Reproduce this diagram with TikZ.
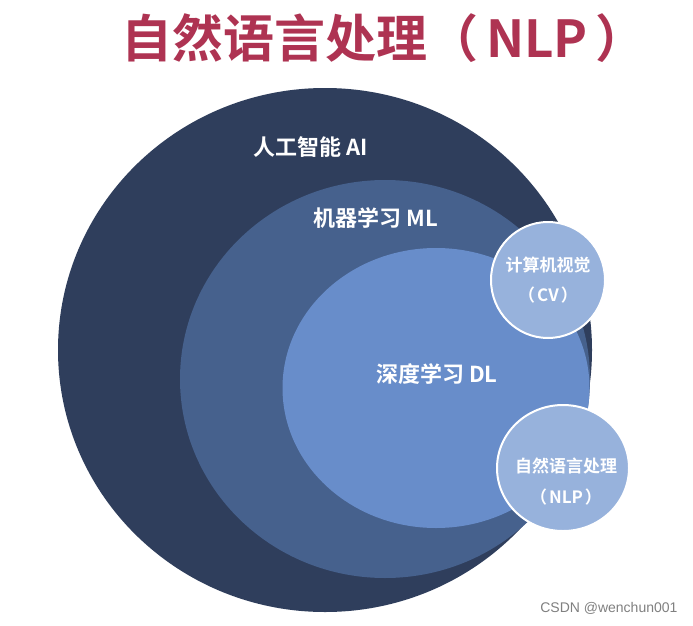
\documentclass[tikz,border=0pt]{standalone}
\usepackage{fontspec}
\newfontfamily\cjk{Noto Sans CJK SC}[BoldFont=* Bold]
\newfontfamily\wmfont{Liberation Sans}
\usetikzlibrary{shapes.geometric}
\definecolor{aicol}{HTML}{2F3E5C}
\definecolor{mlcol}{HTML}{46618D}
\definecolor{dlcol}{HTML}{688DCA}
\definecolor{subcol}{HTML}{97B2DC}
\definecolor{titlecol}{HTML}{AE3352}
\begin{document}
\begin{tikzpicture}[x=1pt,y=-1pt,
  blob/.style={ellipse,inner sep=0pt,draw=none},
  sub/.style={ellipse,inner sep=0pt,draw=white,line width=2pt,fill=subcol},
  lab/.style={text=white,font=\cjk\bfseries\fontsize{22}{25}\selectfont},
  sublab/.style={text=white,font=\cjk\bfseries\fontsize{17}{20}\selectfont}]
\useasboundingbox[fill=white] (0,0) rectangle (693,626);
\node (title) at (384,38) {\cjk\bfseries\fontsize{51}{56}\selectfont\color{titlecol}自然语言处理（\hspace{8pt}NLP\hspace{8pt}）};
\node[blob,fill=aicol,minimum width=534pt,minimum height=524pt] (ai) at (325,350) {};
\node[blob,fill=mlcol,minimum width=410pt,minimum height=398pt] (ml) at (385,379) {};
\node[blob,fill=dlcol,minimum width=307pt,minimum height=280pt] (dl) at (436,388) {};
\node[sub,minimum width=114pt,minimum height=116pt] (cv) at (548,280) {};
\node[sub,minimum width=132pt,minimum height=126pt] (nlp) at (563,468) {};
\node[lab] (ailab) at (311,147) {人工智能 AI};
\node[lab] (mllab) at (376,218) {机器学习 ML};
\node[lab] (dllab) at (437,374) {深度学习 DL};
\node[sublab] (cvlab1) at (548,265) {计算机视觉};
\node[sublab] (cvlab2) at (548,295) {（\hspace{2pt}CV\hspace{2pt}）};
\node[sublab] (nlplab1) at (566,466) {自然语言处理};
\node[sublab] (nlplab2) at (566,497) {（\hspace{2pt}NLP\hspace{2pt}）};
\node[anchor=east,text=gray,font=\wmfont\fontsize{14}{16}\selectfont] (wm) at (681,608) {CSDN @wenchun001};
\end{tikzpicture}
\end{document}
